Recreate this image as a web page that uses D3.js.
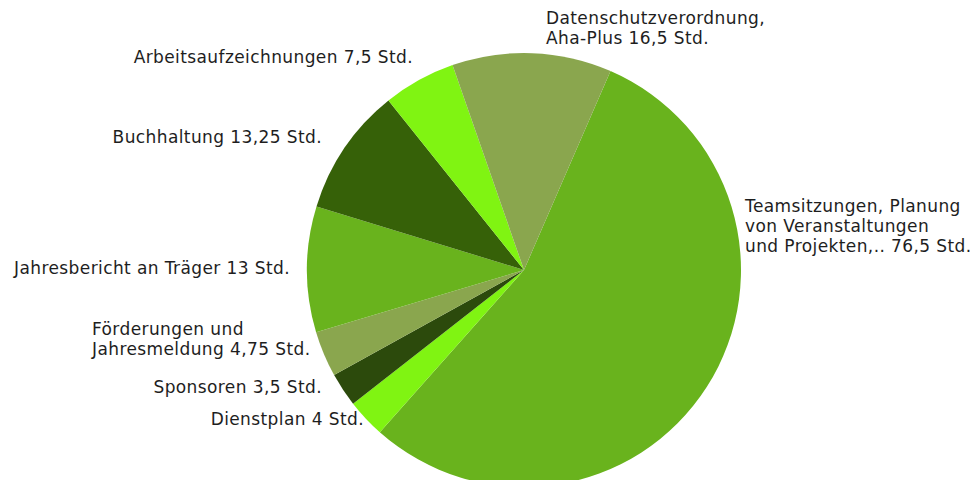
<!DOCTYPE html>
<html>
<head>
<meta charset="utf-8">
<script src="https://cdn.jsdelivr.net/npm/d3@7"></script>
<style>
  body { margin: 0; background: #fff; }
  #chart text { font-family: "DejaVu Sans", Verdana, sans-serif; font-size: 17px; letter-spacing: 0.4px; fill: #1e1e1e; }
</style>
</head>
<body>
<div id="chart"></div>
<script>
// Data (Stunden)
var CATEGORIES = [
  "Teamsitzungen, Planung|von Veranstaltungen|und Projekten,.. 76,5 Std.",
  "Dienstplan 4 Std.",
  "Sponsoren 3,5 Std.",
  "Förderungen und|Jahresmeldung 4,75 Std.",
  "Jahresbericht an Träger 13 Std.",
  "Buchhaltung 13,25 Std.",
  "Arbeitsaufzeichnungen 7,5 Std.",
  "Datenschutzverordnung,|Aha-Plus 16,5 Std."
];
var VALUES = [76.5, 4, 3.5, 4.75, 13, 13.25, 7.5, 16.5];
var COLORS = ["#69b31d", "#80f412", "#2c4a0c", "#8aa64e", "#69b31d", "#366108", "#80f412", "#8aa64e"];

// Label placement (anchor point, text-anchor), like the spreadsheet's outside-end labels
var LABEL_POS = [
  { x: 745, y: 212, anchor: "start" },
  { x: 364, y: 425, anchor: "end" },
  { x: 322, y: 393, anchor: "end" },
  { x: 92, y: 335, anchor: "start" },
  { x: 290, y: 274, anchor: "end" },
  { x: 322, y: 143, anchor: "end" },
  { x: 413, y: 63, anchor: "end" },
  { x: 546, y: 24, anchor: "start" }
];

var width = 976;
var height = 480;
var cx = 524;
var cy = 270;
var radius = 217;

var svg = d3.select("#chart")
  .append("svg")
  .attr("width", width)
  .attr("height", height);

var pie = d3.pie()
  .sort(null)
  .startAngle(23.5 * Math.PI / 180)
  .endAngle(23.5 * Math.PI / 180 + 2 * Math.PI);

var arc = d3.arc().innerRadius(0).outerRadius(radius);

var arcs = pie(VALUES);

svg.append("g")
  .attr("transform", "translate(" + cx + "," + cy + ")")
  .selectAll("path")
  .data(arcs)
  .enter()
  .append("path")
  .attr("d", arc)
  .attr("fill", (d, i) => COLORS[i]);

// Labels
var labels = svg.append("g").attr("class", "labels");

CATEGORIES.forEach(function(c, i) {
  var pos = LABEL_POS[i];
  var t = labels.append("text")
    .attr("x", pos.x)
    .attr("y", pos.y)
    .attr("text-anchor", pos.anchor);
  c.split("|").forEach(function(line, j) {
    t.append("tspan")
      .attr("x", pos.x)
      .attr("dy", j === 0 ? 0 : 20)
      .text(line);
  });
});
</script>
</body>
</html>
